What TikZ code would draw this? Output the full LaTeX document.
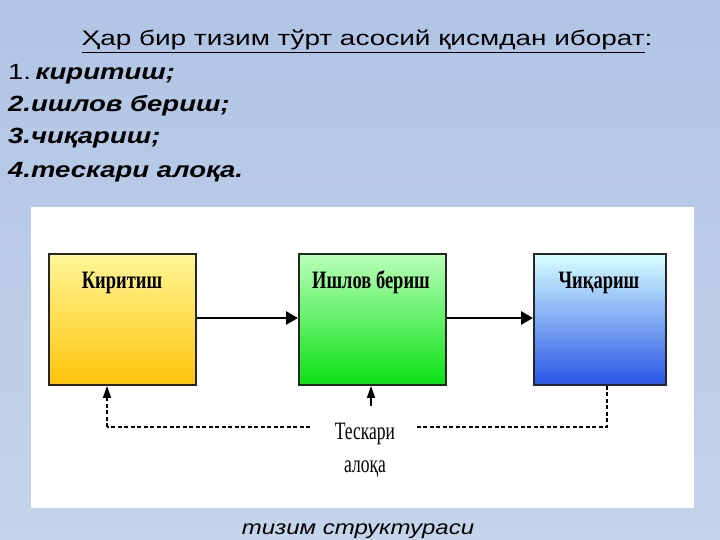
\documentclass[tikz,border=0pt]{standalone}
\usepackage{fontspec}
\setmainfont{Liberation Sans}
\newfontfamily\serifcyr{Liberation Serif}
\usetikzlibrary{arrows.meta}
\definecolor{bgtop}{RGB}{176,196,228}
\definecolor{bgbot}{RGB}{196,212,234}
\definecolor{yelT}{RGB}{255,246,150}
\definecolor{yelB}{RGB}{255,196,10}
\definecolor{grnT}{RGB}{185,255,185}
\definecolor{grnB}{RGB}{10,225,20}
\definecolor{bluT}{RGB}{215,255,255}
\definecolor{bluB}{RGB}{40,85,230}
\tikzset{
  blockbox/.style={draw=black!85,line width=1.9pt,minimum width=#1,minimum height=131pt,inner sep=0pt,anchor=north west},
  blocklabel/.style={font=\serifcyr\bfseries\fontsize{25}{25}\selectfont,anchor=base},
  flowarrow/.style={line width=2.8pt,-{Triangle[length=12pt,width=13pt]}},
  fbline/.style={line width=1.6pt,dash pattern=on 4pt off 2.5pt},
  fbhead/.style={-{Triangle[length=12pt,width=8pt]}},
  listtext/.style={font=\fontsize{22}{22}\selectfont,anchor=base west,inner sep=0pt}
}
\begin{document}
\begin{tikzpicture}[x=1pt,y=-1pt]
\useasboundingbox (0,0) rectangle (720,540);
\shade[top color=bgtop,bottom color=bgbot] (0,0) rectangle (720,540);
% title
\node[font=\fontsize{21}{21}\selectfont,anchor=base,inner sep=0pt] (title) at (367,46)
  {\scalebox{1.33}[1]{\underline{Ҳар бир тизим тўрт асосий қисмдан иборат}:}};
% list
\node[listtext] (l1) at (8,80) {\scalebox{1.25}[1]{1.\,\textbf{\textit{киритиш;}}}};
\node[listtext] (l2) at (8,112) {\scalebox{1.25}[1]{\textbf{\textit{2.ишлов бериш;}}}};
\node[listtext] (l3) at (8,144) {\scalebox{1.25}[1]{\textbf{\textit{3.чиқариш;}}}};
\node[listtext] (l4) at (8,178) {\scalebox{1.25}[1]{\textbf{\textit{4.тескари алоқа.}}}};
% panel
\fill[white] (31,207) rectangle (694,508);
% boxes
\node[blockbox=147pt,top color=yelT,bottom color=yelB] (b1) at (48,253) {};
\node[blockbox=147pt,top color=grnT,bottom color=grnB] (b2) at (298,253) {};
\node[blockbox=132pt,top color=bluT,bottom color=bluB] (b3) at (533,253) {};
\node[blocklabel] (t1) at (122,288) {\scalebox{0.74}[1]{Киритиш}};
\node[blocklabel] (t2) at (371,288) {\scalebox{0.74}[1]{Ишлов бериш}};
\node[blocklabel] (t3) at (599,288) {\scalebox{0.74}[1]{Чиқариш}};
% flow arrows
\draw[flowarrow] (b1.east |- 0,318) -- (b2.west |- 0,318);
\draw[flowarrow] (b2.east |- 0,318) -- (b3.west |- 0,318);
% feedback
\node[font=\serifcyr\fontsize{25}{33}\selectfont,align=center,inner sep=0pt] (fb) at (365,450)
  {\scalebox{0.7}[1]{Тескари}\\\scalebox{0.7}[1]{алоқа}};
\coordinate (c3) at (607,427);
\coordinate (cR) at (416,427);
\coordinate (cL) at (310,427);
\coordinate (c1) at (107,427);
\coordinate (c2) at (371,406);
\draw[fbline] (b3.south -| c3) -- (c3) -- (cR);
\draw[fbline] (cL) -- (c1);
\draw[fbline,fbhead] (c1) -- (b1.south -| c1);
\draw[line width=1.6pt,fbhead] (c2) -- (b2.south -| c2);
% caption
\node[font=\itshape\fontsize{20}{20}\selectfont,anchor=base,inner sep=0pt] (cap) at (358,534) {\scalebox{1.2}[1]{тизим структураси}};
\end{tikzpicture}
\end{document}
